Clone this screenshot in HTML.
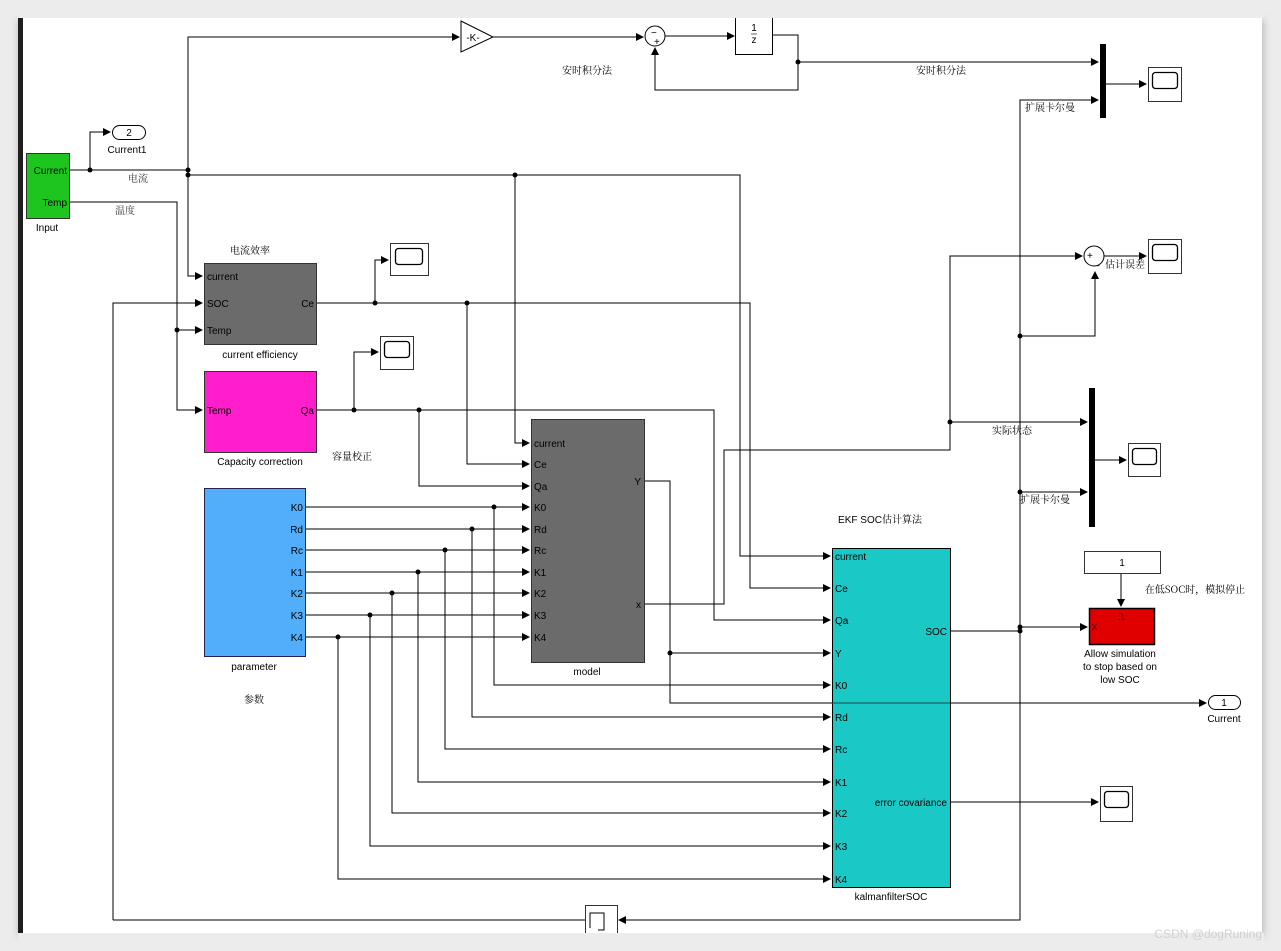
<!DOCTYPE html>
<html><head><meta charset="utf-8"><style>
html,body{margin:0;padding:0;background:#ececec;width:1281px;height:951px;overflow:hidden}
svg{position:absolute;left:0;top:0}
text{font-family:"Liberation Sans","Noto Sans CJK SC",sans-serif;font-size:10px;fill:#000}
.cn{font-family:"Noto Serif CJK SC","Noto Sans CJK SC",serif;font-size:10px}
</style></head><body>
<svg width="1281" height="951" viewBox="0 0 1281 951">
<defs>
<marker id="a" markerWidth="8" markerHeight="8" refX="7" refY="4" orient="auto" markerUnits="userSpaceOnUse"><path d="M0,0 L8,4 L0,8 z" fill="#000"/></marker>
<filter id="sh" x="-5%" y="-5%" width="110%" height="110%"><feGaussianBlur stdDeviation="4"/></filter>
</defs>
<rect x="18" y="20" width="1246" height="916" fill="#bbb" filter="url(#sh)"/>
<rect x="18" y="18" width="1244" height="915" fill="#fff"/>
<rect x="18" y="18" width="5" height="915" fill="#1e1e1e"/>

<g fill="none" stroke="#000" stroke-width="1">
<path d="M70,170 H188"/>
<path d="M90,170 V132 H110" marker-end="url(#a)"/>
<path d="M188,170 V37 H459" marker-end="url(#a)"/>
<path d="M188,170 V276 H202" marker-end="url(#a)"/>
<path d="M188,175 H740 V556 H830" marker-end="url(#a)"/>
<path d="M515,175 V443 H529" marker-end="url(#a)"/>
<path d="M70,202 H177 V410 H202" marker-end="url(#a)"/>
<path d="M177,330 H202" marker-end="url(#a)"/>
<path d="M113,920 V303 H202" marker-end="url(#a)"/>
<path d="M585,920 H113"/>
<path d="M1020,627 V920 H619" marker-end="url(#a)"/>
<path d="M317,303 H750 V588 H830" marker-end="url(#a)"/>
<path d="M375,303 V260 H388" marker-end="url(#a)"/>
<path d="M467,303 V464 H529" marker-end="url(#a)"/>
<path d="M317,410 H714 V620 H830" marker-end="url(#a)"/>
<path d="M354,410 V352 H378" marker-end="url(#a)"/>
<path d="M419,410 V486 H529" marker-end="url(#a)"/>
<path d="M306,507 H529" marker-end="url(#a)"/>
<path d="M306,529 H529" marker-end="url(#a)"/>
<path d="M306,550 H529" marker-end="url(#a)"/>
<path d="M306,572 H529" marker-end="url(#a)"/>
<path d="M306,593 H529" marker-end="url(#a)"/>
<path d="M306,615 H529" marker-end="url(#a)"/>
<path d="M306,637 H529" marker-end="url(#a)"/>
<path d="M494,507 V685 H830" marker-end="url(#a)"/>
<path d="M472,529 V717 H830" marker-end="url(#a)"/>
<path d="M445,550 V749 H830" marker-end="url(#a)"/>
<path d="M418,572 V782 H830" marker-end="url(#a)"/>
<path d="M392,593 V813 H830" marker-end="url(#a)"/>
<path d="M370,615 V846 H830" marker-end="url(#a)"/>
<path d="M338,637 V879 H830" marker-end="url(#a)"/>
<path d="M644,481 H670 V703 H1206" marker-end="url(#a)"/>
<path d="M670,653 H830" marker-end="url(#a)"/>
<path d="M644,604 H724 V450 H950 V256 H1082" marker-end="url(#a)"/>
<path d="M950,422 H1087" marker-end="url(#a)"/>
<path d="M1020,627 V100 H1098" marker-end="url(#a)"/>
<path d="M1020,336 H1095 V272" marker-end="url(#a)"/>
<path d="M1020,492 H1087" marker-end="url(#a)"/>
<path d="M950,631 H1020"/>
<path d="M1020,627 H1087" marker-end="url(#a)"/>
<path d="M950,802 H1098" marker-end="url(#a)"/>
<path d="M1121,573 V606" marker-end="url(#a)"/>
<path d="M493,37 H643" marker-end="url(#a)"/>
<path d="M665,36 H734" marker-end="url(#a)"/>
<path d="M773,35 H798 V90 H655 V48" marker-end="url(#a)"/>
<path d="M798,62 H1098" marker-end="url(#a)"/>
<path d="M1106,84 H1146" marker-end="url(#a)"/>
<path d="M1104,256 H1146" marker-end="url(#a)"/>
<path d="M1094,460 H1126" marker-end="url(#a)"/>
</g>

<g fill="#000">
<circle cx="90" cy="170" r="2.5"/><circle cx="188" cy="170" r="2.5"/><circle cx="188" cy="175" r="2.5"/>
<circle cx="515" cy="175" r="2.5"/><circle cx="177" cy="330" r="2.5"/><circle cx="375" cy="303" r="2.5"/>
<circle cx="467" cy="303" r="2.5"/><circle cx="354" cy="410" r="2.5"/><circle cx="419" cy="410" r="2.5"/>
<circle cx="494" cy="507" r="2.5"/><circle cx="472" cy="529" r="2.5"/><circle cx="445" cy="550" r="2.5"/>
<circle cx="418" cy="572" r="2.5"/><circle cx="392" cy="593" r="2.5"/><circle cx="370" cy="615" r="2.5"/>
<circle cx="338" cy="637" r="2.5"/><circle cx="670" cy="653" r="2.5"/><circle cx="950" cy="422" r="2.5"/>
<circle cx="1020" cy="336" r="2.5"/><circle cx="1020" cy="492" r="2.5"/><circle cx="1020" cy="627" r="2.5"/>
<circle cx="1020" cy="631" r="2.5"/><circle cx="798" cy="62" r="2.5"/>
</g>

<rect x="26.5" y="153.5" width="43" height="65" fill="#1ec51e" stroke="#333"/>
<text x="67" y="174" text-anchor="end">Current</text><text x="67" y="206" text-anchor="end">Temp</text>
<text x="47" y="231" text-anchor="middle">Input</text>
<rect x="112.5" y="125.5" width="33" height="14" rx="7" fill="#fff" stroke="#000"/>
<text x="129" y="136" text-anchor="middle">2</text><text x="127" y="153" text-anchor="middle">Current1</text>
<text x="138" y="182" class="cn" text-anchor="middle" style="fill:#333">电流</text>
<text x="125" y="214" class="cn" text-anchor="middle" style="fill:#333">温度</text>

<polygon points="461,21 493,37 461,52" fill="#fff" stroke="#000"/>
<text x="473" y="41" text-anchor="middle">-K-</text>
<circle cx="655" cy="36" r="10" fill="#fff" stroke="#000"/>
<text x="651" y="36" font-size="8">−</text><text x="654" y="45" font-size="8">+</text>
<rect x="735.5" y="14.5" width="37" height="40" fill="#fff" stroke="#000"/>
<text x="754" y="31" text-anchor="middle" font-size="7">1</text><line x1="751" y1="34" x2="757" y2="34" stroke="#000" stroke-width=".6"/><text x="754" y="43" text-anchor="middle" font-size="7">z</text>
<rect x="18" y="10" width="1246" height="8" fill="#ececec"/>
<text x="587" y="74" class="cn" text-anchor="middle">安时积分法</text>
<text x="941" y="74" class="cn" text-anchor="middle">安时积分法</text>
<text x="1050" y="111" class="cn" text-anchor="middle">扩展卡尔曼</text>

<rect x="1100" y="44" width="6" height="74" fill="#000"/>
<rect x="1148.5" y="67.5" width="33" height="34" fill="#fff" stroke="#333"/><rect x="1152.5" y="72.5" width="25" height="16" rx="3" fill="#fff" stroke="#000" stroke-width="1.3"/>
<rect x="1148.5" y="239.5" width="33" height="34" fill="#fff" stroke="#333"/><rect x="1152.5" y="244.5" width="25" height="16" rx="3" fill="#fff" stroke="#000" stroke-width="1.3"/>
<circle cx="1094" cy="256" r="10" fill="#fff" stroke="#000"/>
<text x="1087" y="259" font-size="8">+</text><text x="1094" y="264" font-size="8">_</text>
<text x="1125" y="268" class="cn" text-anchor="middle">估计误差</text>
<rect x="1089" y="388" width="6" height="139" fill="#000"/>
<rect x="1128.5" y="443.5" width="32" height="33" fill="#fff" stroke="#333"/><rect x="1132.5" y="448.5" width="24" height="16" rx="3" fill="#fff" stroke="#000" stroke-width="1.3"/>
<text x="1012" y="434" class="cn" text-anchor="middle">实际状态</text>
<text x="1045" y="503" class="cn" text-anchor="middle">扩展卡尔曼</text>

<text x="250" y="254" class="cn" text-anchor="middle">电流效率</text>
<rect x="204.5" y="263.5" width="112" height="81" fill="#6b6b6b" stroke="#333"/>
<text x="207" y="280">current</text><text x="207" y="307">SOC</text><text x="207" y="334">Temp</text><text x="314" y="307" text-anchor="end">Ce</text>
<text x="260" y="358" text-anchor="middle">current efficiency</text>
<rect x="390.5" y="243.5" width="38" height="32" fill="#fff" stroke="#333"/><rect x="395.5" y="248.5" width="27" height="16" rx="3" fill="#fff" stroke="#000" stroke-width="1.3"/>
<rect x="380.5" y="336.5" width="33" height="33" fill="#fff" stroke="#333"/><rect x="384.5" y="341.5" width="25" height="16" rx="3" fill="#fff" stroke="#000" stroke-width="1.3"/>

<rect x="204.5" y="371.5" width="112" height="81" fill="#ff1dcc" stroke="#333"/>
<text x="207" y="414">Temp</text><text x="314" y="414" text-anchor="end">Qa</text>
<text x="260" y="465" text-anchor="middle">Capacity correction</text>
<text x="352" y="460" class="cn" text-anchor="middle">容量校正</text>

<rect x="204.5" y="488.5" width="101" height="168" fill="#52adfa" stroke="#225"/>
<g text-anchor="end">
<text x="303" y="511">K0</text><text x="303" y="533">Rd</text><text x="303" y="554">Rc</text><text x="303" y="576">K1</text><text x="303" y="597">K2</text><text x="303" y="619">K3</text><text x="303" y="641">K4</text>
</g>
<text x="254" y="670" text-anchor="middle">parameter</text>
<text x="254" y="703" class="cn" text-anchor="middle">参数</text>

<rect x="531.5" y="419.5" width="113" height="243" fill="#6b6b6b" stroke="#333"/>
<text x="534" y="447">current</text><text x="534" y="468">Ce</text><text x="534" y="490">Qa</text>
<text x="534" y="511">K0</text><text x="534" y="533">Rd</text><text x="534" y="554">Rc</text><text x="534" y="576">K1</text><text x="534" y="597">K2</text><text x="534" y="619">K3</text><text x="534" y="641">K4</text>
<text x="641" y="485" text-anchor="end">Y</text><text x="641" y="608" text-anchor="end">x</text>
<text x="587" y="675" text-anchor="middle">model</text>

<text x="880" y="523" text-anchor="middle">EKF SOC<tspan class="cn">估计算法</tspan></text>
<rect x="832.5" y="548.5" width="118" height="339" fill="#1ac8c6" stroke="#000"/>
<g>
<text x="835" y="560">current</text><text x="835" y="592">Ce</text><text x="835" y="624">Qa</text><text x="835" y="657">Y</text><text x="835" y="689">K0</text><text x="835" y="721">Rd</text><text x="835" y="753">Rc</text><text x="835" y="786">K1</text><text x="835" y="817">K2</text><text x="835" y="850">K3</text><text x="835" y="883">K4</text>
</g>
<text x="947" y="635" text-anchor="end">SOC</text><text x="947" y="806" text-anchor="end">error  covariance</text>
<text x="891" y="900" text-anchor="middle">kalmanfilterSOC</text>
<line x1="832" y1="703" x2="950" y2="703" stroke="#1a4a4a" stroke-width="1"/>

<rect x="1084.5" y="551.5" width="76" height="22" fill="#fff" stroke="#333"/>
<text x="1122" y="566" text-anchor="middle">1</text>
<text x="1195" y="593" class="cn" text-anchor="middle">在低SOC时，模拟停止</text>
<rect x="1089.5" y="608.5" width="65" height="36" fill="#e00000" stroke="#000" stroke-width="1.5"/>
<text x="1121" y="620" text-anchor="middle" font-size="9">⎍</text><text x="1092" y="630" font-size="9">x</text>
<text x="1120" y="657" text-anchor="middle">Allow simulation</text><text x="1120" y="670" text-anchor="middle">to stop based on</text><text x="1120" y="683" text-anchor="middle">low SOC</text>
<rect x="1208.5" y="695.5" width="32" height="14" rx="7" fill="#fff" stroke="#000"/>
<text x="1224" y="706" text-anchor="middle">1</text><text x="1224" y="722" text-anchor="middle">Current</text>
<rect x="1100.5" y="786.5" width="32" height="35" fill="#fff" stroke="#333"/><rect x="1104.5" y="791.5" width="24" height="16" rx="3" fill="#fff" stroke="#000" stroke-width="1.3"/>

<rect x="585.5" y="905.5" width="32" height="30" fill="#fff" stroke="#333"/>
<path d="M590,928 V913 H604 V930 H598" fill="none" stroke="#000"/>
<rect x="18" y="933" width="1246" height="18" fill="#ececec"/>
<text x="1262" y="938" text-anchor="end" style="fill:#d0d0d0;font-size:12px">CSDN @dogRuning</text>
</svg>
</body></html>
